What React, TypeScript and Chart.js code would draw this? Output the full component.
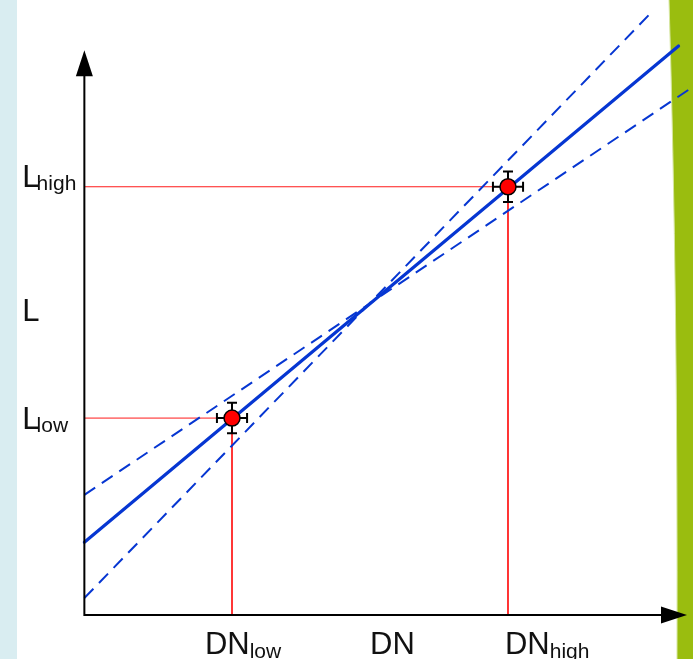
import React, { useEffect, useRef } from "react";
import { Chart, registerables } from "chart.js";

Chart.register(...registerables);

// Calibration points (DN, L)
const pointDN = [24.5, 70.3];
const pointL = [34.9, 75.9];
const errDN = [2.5, 2.5];
const errL = [2.7, 2.7];

// Fitted line and its uncertainty envelope (endpoints)
const fitLine = [
  { x: 0, y: 12.9 },
  { x: 98.6, y: 100.85 },
];
const shallowLine = [
  { x: 0, y: 21.3 },
  { x: 100.7, y: 93.4 },
];
const steepLine = [
  { x: 0, y: 3.0 },
  { x: 94.0, y: 106.7 },
];

// Axis extents (arrow tips)
const axisMaxDN = 100;
const axisMaxL = 100.1;

// Tick labels
const xLabelMain = ["DN", "DN", "DN"];
const xLabelSub = ["low", "", "high"];
const xLabelAt = [20.0, 47.4, 69.8];
const yLabelMain = ["L", "L", "L"];
const yLabelSub = ["high", "", "low"];
const yLabelAt = [75.9, 52.1, 33.0];

const BLUE = "#0636d2";
const RED = "#ff1a1a";

export default function App() {
  const ref = useRef<HTMLCanvasElement | null>(null);

  useEffect(() => {
    if (!ref.current) return;

    const bgPlugin = {
      id: "bg",
      beforeDraw(chart: any) {
        const ctx = chart.ctx;
        const W = chart.width;
        const H = chart.height;
        ctx.save();
        ctx.fillStyle = "#ffffff";
        ctx.fillRect(0, 0, W, H);
        ctx.fillStyle = "#d9edf1";
        ctx.fillRect(0, 0, 17, H);
        ctx.beginPath();
        ctx.moveTo(669, 0);
        ctx.quadraticCurveTo(678, 300, 677, H);
        ctx.lineTo(W, H);
        ctx.lineTo(W, 0);
        ctx.closePath();
        ctx.fillStyle = "#9abd0f";
        ctx.fill();
        ctx.beginPath();
        ctx.moveTo(669, 0);
        ctx.quadraticCurveTo(678, 300, 677, H);
        ctx.strokeStyle = "#d6e6a0";
        ctx.lineWidth = 1;
        ctx.stroke();
        ctx.restore();
      },
    };

    const axesPlugin = {
      id: "axesArrows",
      afterDatasetsDraw(chart: any) {
        const ctx = chart.ctx;
        const xs = chart.scales.x;
        const ys = chart.scales.y;
        const x0 = xs.getPixelForValue(0);
        const y0 = ys.getPixelForValue(0);
        const xt = xs.getPixelForValue(axisMaxDN);
        const yt = ys.getPixelForValue(axisMaxL);
        ctx.save();
        ctx.strokeStyle = "#000";
        ctx.fillStyle = "#000";
        ctx.lineWidth = 2;
        ctx.beginPath();
        ctx.moveTo(x0, y0);
        ctx.lineTo(x0, yt + 20);
        ctx.moveTo(x0 - 1, y0);
        ctx.lineTo(xt - 20, y0);
        ctx.stroke();
        // arrowheads
        ctx.beginPath();
        ctx.moveTo(x0, yt);
        ctx.lineTo(x0 - 8.5, yt + 26);
        ctx.lineTo(x0 + 8.5, yt + 26);
        ctx.closePath();
        ctx.fill();
        ctx.beginPath();
        ctx.moveTo(xt, y0);
        ctx.lineTo(xt - 26, y0 - 8.5);
        ctx.lineTo(xt - 26, y0 + 8.5);
        ctx.closePath();
        ctx.fill();

        // labels
        ctx.fillStyle = "#111";
        ctx.textBaseline = "alphabetic";
        ctx.textAlign = "left";
        const mainFont = "31px 'Liberation Sans', Arial, sans-serif";
        const subFont = "21px 'Liberation Sans', Arial, sans-serif";
        for (let i = 0; i < xLabelMain.length; i++) {
          const px = xs.getPixelForValue(xLabelAt[i]);
          const base = y0 + 39;
          ctx.font = mainFont;
          ctx.fillText(xLabelMain[i], px, base);
          const w = ctx.measureText(xLabelMain[i]).width;
          if (xLabelSub[i]) {
            ctx.font = subFont;
            ctx.fillText(xLabelSub[i], px + w, base + 4);
          }
        }
        for (let i = 0; i < yLabelMain.length; i++) {
          const py = ys.getPixelForValue(yLabelAt[i]);
          const px = x0 - 62;
          ctx.font = mainFont;
          ctx.fillText(yLabelMain[i], px, py);
          const w = ctx.measureText(yLabelMain[i]).width;
          if (yLabelSub[i]) {
            ctx.font = subFont;
            ctx.fillText(yLabelSub[i], px + w - 3, py + 3);
          }
        }
        ctx.restore();
      },
    };

    const errPlugin = {
      id: "errBars",
      beforeDatasetDraw(chart: any, args: any) {
        if (args.index !== 0) return;
        const ctx = chart.ctx;
        const xs = chart.scales.x;
        const ys = chart.scales.y;
        ctx.save();
        ctx.strokeStyle = "#000";
        ctx.lineWidth = 2;
        for (let i = 0; i < pointDN.length; i++) {
          const cx = xs.getPixelForValue(pointDN[i]);
          const cy = ys.getPixelForValue(pointL[i]);
          const xl = xs.getPixelForValue(pointDN[i] - errDN[i]);
          const xr = xs.getPixelForValue(pointDN[i] + errDN[i]);
          const yt = ys.getPixelForValue(pointL[i] + errL[i]);
          const yb = ys.getPixelForValue(pointL[i] - errL[i]);
          const c = 5;
          ctx.beginPath();
          ctx.moveTo(xl, cy);
          ctx.lineTo(xr, cy);
          ctx.moveTo(xl, cy - c);
          ctx.lineTo(xl, cy + c);
          ctx.moveTo(xr, cy - c);
          ctx.lineTo(xr, cy + c);
          ctx.moveTo(cx, yt);
          ctx.lineTo(cx, yb);
          ctx.moveTo(cx - c, yt);
          ctx.lineTo(cx + c, yt);
          ctx.moveTo(cx - c, yb);
          ctx.lineTo(cx + c, yb);
          ctx.stroke();
        }
        ctx.restore();
      },
    };

    const guides = pointDN.map((dn, i) => ({
      type: "line" as const,
      data: [
        { x: 0, y: pointL[i] },
        { x: dn, y: pointL[i] },
        { x: dn, y: 0 },
      ],
      borderColor: RED,
      borderWidth: 1,
      pointRadius: 0,
      fill: false,
    }));

    const chart = new Chart(ref.current, {
      type: "scatter",
      data: {
        datasets: [
          {
            type: "scatter",
            data: pointDN.map((dn, i) => ({ x: dn, y: pointL[i] })),
            backgroundColor: "#ff0000",
            borderColor: "#000",
            borderWidth: 1.5,
            pointRadius: 8,
          },
          {
            type: "line",
            data: fitLine,
            borderColor: BLUE,
            borderWidth: 3.2,
            pointRadius: 0,
            borderCapStyle: "round",
          },
          {
            type: "line",
            data: shallowLine,
            borderColor: BLUE,
            borderWidth: 2,
            borderDash: [13, 8],
            pointRadius: 0,
          },
          {
            type: "line",
            data: steepLine,
            borderColor: BLUE,
            borderWidth: 2,
            borderDash: [13, 8],
            pointRadius: 0,
          },
          ...guides,
        ] as any,
      },
      options: {
        animation: false,
        responsive: false,
        devicePixelRatio: 1,
        layout: { padding: 0, autoPadding: false },
        plugins: {
          legend: { display: false },
          tooltip: { enabled: false },
        },
        events: [],
        scales: {
          x: { type: "linear", min: -14, max: 101, display: false },
          y: { type: "linear", min: -7.8, max: 109, display: false },
        },
      },
      plugins: [bgPlugin, errPlugin, axesPlugin],
    });
    return () => chart.destroy();
  }, []);

  return (
    <div style={{ position: "fixed", left: 0, top: 0, width: 693, height: 659 }}>
      <canvas ref={ref} width={693} height={659} style={{ display: "block" }} />
    </div>
  );
}
